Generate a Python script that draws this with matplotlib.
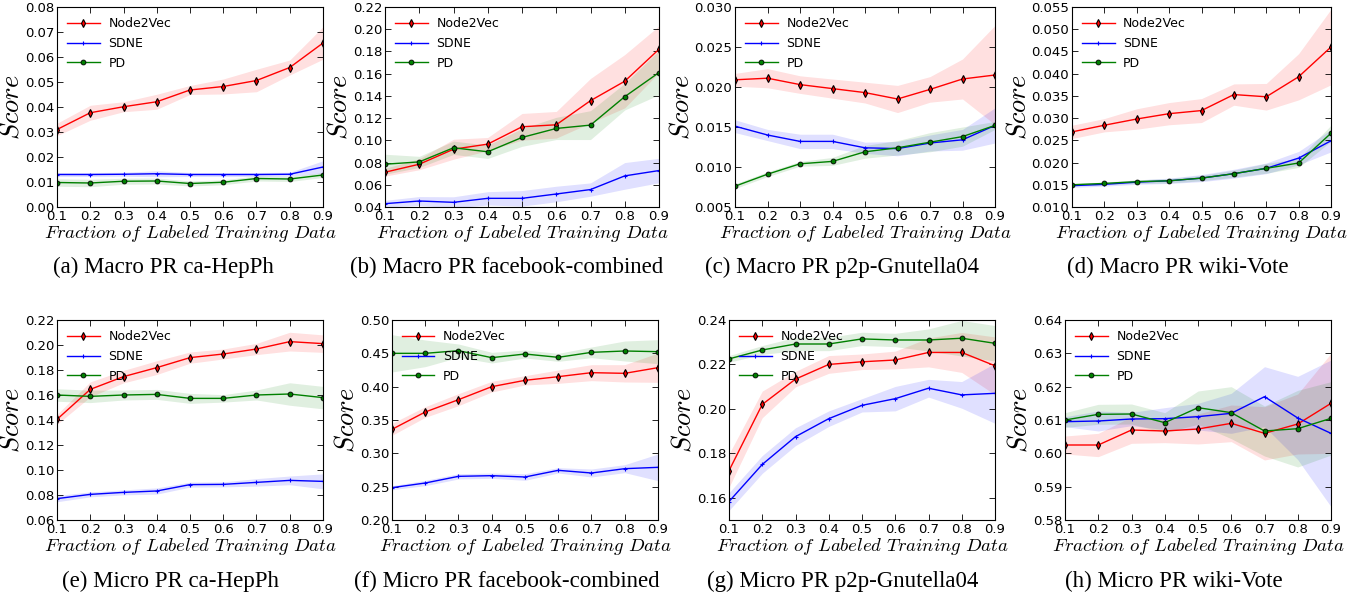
import matplotlib
matplotlib.use('Agg')
import matplotlib.pyplot as plt
import numpy as np

plt.rcParams['mathtext.fontset'] = 'cm'
plt.rcParams['font.family'] = 'DejaVu Sans'

# x values: fraction of labeled training data
frac = [0.1, 0.2, 0.3, 0.4, 0.5, 0.6, 0.7, 0.8, 0.9]
methods = ['Node2Vec', 'SDNE', 'PD']

# (a) Macro PR ca-HepPh
a_n2v = [0.0310, 0.0377, 0.0401, 0.0421, 0.0468, 0.0482, 0.0506, 0.0558, 0.0656]
a_n2v_sd = [0.0025, 0.0030, 0.0020, 0.0030, 0.0018, 0.0030, 0.0045, 0.0030, 0.0065]
a_sdne = [0.0130, 0.0130, 0.0131, 0.0133, 0.0130, 0.0130, 0.0130, 0.0131, 0.0160]
a_sdne_sd = [0.0008, 0.0008, 0.0008, 0.0012, 0.0008, 0.0008, 0.0008, 0.0008, 0.0025]
a_pd = [0.0098, 0.0096, 0.0103, 0.0104, 0.0094, 0.0099, 0.0114, 0.0112, 0.0128]
a_pd_sd = [0.0015, 0.0015, 0.0012, 0.0012, 0.0010, 0.0010, 0.0010, 0.0010, 0.0010]

# (b) Macro PR facebook-combined
b_n2v = [0.0713, 0.0785, 0.0920, 0.0966, 0.1122, 0.1140, 0.1357, 0.1532, 0.1820]
b_n2v_sd = [0.0035, 0.0050, 0.0090, 0.0060, 0.0120, 0.0120, 0.0200, 0.0240, 0.0210]
b_sdne = [0.0430, 0.0454, 0.0442, 0.0478, 0.0478, 0.0517, 0.0557, 0.0680, 0.0728]
b_sdne_sd = [0.0030, 0.0040, 0.0050, 0.0060, 0.0070, 0.0070, 0.0060, 0.0120, 0.0110]
b_pd = [0.0785, 0.0806, 0.0933, 0.0897, 0.1026, 0.1107, 0.1137, 0.1393, 0.1610]
b_pd_sd = [0.0090, 0.0050, 0.0060, 0.0060, 0.0080, 0.0100, 0.0130, 0.0120, 0.0200]

# (c) Macro PR p2p-Gnutella04
c_n2v = [0.0209, 0.0211, 0.0203, 0.0198, 0.0193, 0.0185, 0.0197, 0.0210, 0.0215]
c_n2v_sd = [0.0008, 0.0012, 0.0011, 0.0012, 0.0013, 0.0017, 0.0016, 0.0025, 0.0062]
c_sdne = [0.0151, 0.0140, 0.0132, 0.0132, 0.0124, 0.0123, 0.0130, 0.0134, 0.0152]
c_sdne_sd = [0.0008, 0.0007, 0.0009, 0.0009, 0.0007, 0.0009, 0.0010, 0.0013, 0.0022]
c_pd = [0.0076, 0.0091, 0.0104, 0.0107, 0.0119, 0.0124, 0.0131, 0.0138, 0.0152]
c_pd_sd = [0.0003, 0.0003, 0.0003, 0.0005, 0.0008, 0.0009, 0.0012, 0.0012, 0.0005]

# (d) Macro PR wiki-Vote
d_n2v = [0.0269, 0.0284, 0.0298, 0.0310, 0.0317, 0.0353, 0.0348, 0.0393, 0.0460]
d_n2v_sd = [0.0015, 0.0015, 0.0023, 0.0025, 0.0027, 0.0024, 0.0030, 0.0052, 0.0085]
d_sdne = [0.0148, 0.0151, 0.0156, 0.0159, 0.0165, 0.0175, 0.0187, 0.0210, 0.0249]
d_sdne_sd = [0.0004, 0.0004, 0.0005, 0.0006, 0.0008, 0.0010, 0.0012, 0.0015, 0.0025]
d_pd = [0.0150, 0.0153, 0.0157, 0.0159, 0.0165, 0.0175, 0.0187, 0.0199, 0.0266]
d_pd_sd = [0.0003, 0.0003, 0.0004, 0.0005, 0.0006, 0.0008, 0.0011, 0.0010, 0.0018]

# (e) Micro PR ca-HepPh
e_n2v = [0.1405, 0.1645, 0.1747, 0.1819, 0.1899, 0.1928, 0.1968, 0.2027, 0.2011]
e_n2v_sd = [0.0040, 0.0060, 0.0050, 0.0055, 0.0045, 0.0040, 0.0045, 0.0075, 0.0070]
e_sdne = [0.0771, 0.0805, 0.0821, 0.0832, 0.0883, 0.0885, 0.0901, 0.0917, 0.0909]
e_sdne_sd = [0.0025, 0.0020, 0.0020, 0.0025, 0.0020, 0.0020, 0.0030, 0.0035, 0.0060]
e_pd = [0.1600, 0.1589, 0.1600, 0.1605, 0.1573, 0.1573, 0.1600, 0.1608, 0.1579]
e_pd_sd = [0.0050, 0.0050, 0.0040, 0.0040, 0.0040, 0.0030, 0.0040, 0.0090, 0.0090]

# (f) Micro PR facebook-combined
f_n2v = [0.3360, 0.3620, 0.3805, 0.4000, 0.4095, 0.4150, 0.4210, 0.4200, 0.4285]
f_n2v_sd = [0.0090, 0.0080, 0.0090, 0.0080, 0.0070, 0.0100, 0.0120, 0.0130, 0.0220]
f_sdne = [0.2485, 0.2555, 0.2655, 0.2665, 0.2645, 0.2745, 0.2705, 0.2770, 0.2790]
f_sdne_sd = [0.0030, 0.0040, 0.0040, 0.0040, 0.0050, 0.0040, 0.0060, 0.0060, 0.0200]
f_pd = [0.4500, 0.4500, 0.4540, 0.4435, 0.4490, 0.4440, 0.4515, 0.4535, 0.4525]
f_pd_sd = [0.0280, 0.0200, 0.0100, 0.0080, 0.0060, 0.0060, 0.0080, 0.0150, 0.0180]

# (g) Micro PR p2p-Gnutella04
g_n2v = [0.1722, 0.2020, 0.2134, 0.2200, 0.2212, 0.2220, 0.2254, 0.2254, 0.2194]
g_n2v_sd = [0.0075, 0.0060, 0.0035, 0.0040, 0.0035, 0.0040, 0.0065, 0.0090, 0.0130]
g_sdne = [0.1583, 0.1750, 0.1875, 0.1956, 0.2016, 0.2046, 0.2093, 0.2063, 0.2070]
g_sdne_sd = [0.0040, 0.0040, 0.0040, 0.0035, 0.0030, 0.0055, 0.0040, 0.0060, 0.0135]
g_pd = [0.2225, 0.2265, 0.2292, 0.2292, 0.2315, 0.2310, 0.2310, 0.2318, 0.2295]
g_pd_sd = [0.0015, 0.0020, 0.0030, 0.0030, 0.0030, 0.0030, 0.0050, 0.0080, 0.0080]

# (h) Micro PR wiki-Vote
h_n2v = [0.6025, 0.6025, 0.6070, 0.6067, 0.6073, 0.6090, 0.6060, 0.6088, 0.6150]
h_n2v_sd = [0.0027, 0.0035, 0.0040, 0.0035, 0.0045, 0.0055, 0.0080, 0.0090, 0.0150]
h_sdne = [0.6095, 0.6097, 0.6103, 0.6104, 0.6110, 0.6120, 0.6170, 0.6106, 0.6060]
h_sdne_sd = [0.0015, 0.0030, 0.0020, 0.0033, 0.0040, 0.0060, 0.0090, 0.0125, 0.0220]
h_pd = [0.6100, 0.6117, 0.6118, 0.6092, 0.6137, 0.6122, 0.6067, 0.6074, 0.6105]
h_pd_sd = [0.0022, 0.0030, 0.0030, 0.0030, 0.0050, 0.0078, 0.0075, 0.0115, 0.0110]

captions = ['(a) Macro PR ca-HepPh', '(b) Macro PR facebook-combined',
            '(c) Macro PR p2p-Gnutella04', '(d) Macro PR wiki-Vote',
            '(e) Micro PR ca-HepPh', '(f) Micro PR facebook-combined',
            '(g) Micro PR p2p-Gnutella04', '(h) Micro PR wiki-Vote']

panels = [
    (a_n2v, a_n2v_sd, a_sdne, a_sdne_sd, a_pd, a_pd_sd),
    (b_n2v, b_n2v_sd, b_sdne, b_sdne_sd, b_pd, b_pd_sd),
    (c_n2v, c_n2v_sd, c_sdne, c_sdne_sd, c_pd, c_pd_sd),
    (d_n2v, d_n2v_sd, d_sdne, d_sdne_sd, d_pd, d_pd_sd),
    (e_n2v, e_n2v_sd, e_sdne, e_sdne_sd, e_pd, e_pd_sd),
    (f_n2v, f_n2v_sd, f_sdne, f_sdne_sd, f_pd, f_pd_sd),
    (g_n2v, g_n2v_sd, g_sdne, g_sdne_sd, g_pd, g_pd_sd),
    (h_n2v, h_n2v_sd, h_sdne, h_sdne_sd, h_pd, h_pd_sd),
]

# y ranges and ticks per panel
ylims = [(0.0, 0.08), (0.04, 0.22), (0.005, 0.030), (0.010, 0.055),
         (0.06, 0.22), (0.20, 0.50), (0.15, 0.24), (0.58, 0.64)]
yticks = [np.arange(0.0, 0.0801, 0.01), np.arange(0.04, 0.2201, 0.02),
          np.arange(0.005, 0.0301, 0.005), np.arange(0.010, 0.0551, 0.005),
          np.arange(0.06, 0.2201, 0.02), np.arange(0.20, 0.5001, 0.05),
          np.arange(0.16, 0.2401, 0.02), np.arange(0.58, 0.6401, 0.01)]

# axes boxes in pixels (left, right) for each panel; rows share top/bottom
W, H = 1365, 598
xbox = [(57, 323), (385, 659), (735, 995), (1072, 1331),
        (57, 323), (392, 658), (729, 995), (1065, 1331)]
ybox = [(7, 207)] * 4 + [(320, 520)] * 4
cap_x = [163, 507, 842, 1178, 171, 507, 843, 1174]
cap_y = [267] * 4 + [581] * 4

styles = [
    dict(color='r', marker='d', ms=4, mfc='r', mec='k', mew=0.8),
    dict(color='b', marker='+', ms=3.5, mec='b', mew=0.8),
    dict(color='g', marker='o', ms=3.5, mfc='g', mec='k', mew=0.6),
]

fig = plt.figure(figsize=(W / 100, H / 100), dpi=100)

for i, p in enumerate(panels):
    l, r = xbox[i]
    t, b = ybox[i]
    ax = fig.add_axes([l / W, 1 - b / H, (r - l) / W, (b - t) / H])
    x = np.array(frac)
    for k in range(3):
        m = np.array(p[2 * k])
        s = np.array(p[2 * k + 1])
        st = styles[k]
        ax.fill_between(x, m - s, m + s, color=st['color'], alpha=0.12, lw=0)
        ax.plot(x, m, lw=1, label=methods[k], **st)
    ax.set_xlim(0.1, 0.9)
    ax.set_ylim(*ylims[i])
    ax.set_xticks(frac)
    ax.set_yticks(yticks[i])
    ax.ticklabel_format(axis='y', useOffset=False)
    ax.tick_params(direction='in', top=True, right=True, length=4,
                   width=0.6, labelsize=9.5, pad=2)
    for sp in ax.spines.values():
        sp.set_linewidth(0.8)
    ax.set_xlabel(r'$Fraction\ of\ Labeled\ Training\ Data$', fontsize=13.5, labelpad=0)
    ax.set_ylabel(r'$Score$', fontsize=19, labelpad=0)
    ax.legend(loc='upper left', frameon=False, fontsize=9, handlelength=2.6,
              borderaxespad=0.4, labelspacing=0.55, handletextpad=0.7)
    fig.text(cap_x[i] / W, 1 - cap_y[i] / H, captions[i], ha='center', va='center',
             fontsize=16.5, family='Liberation Serif')

fig.savefig('out.png', dpi=100)
